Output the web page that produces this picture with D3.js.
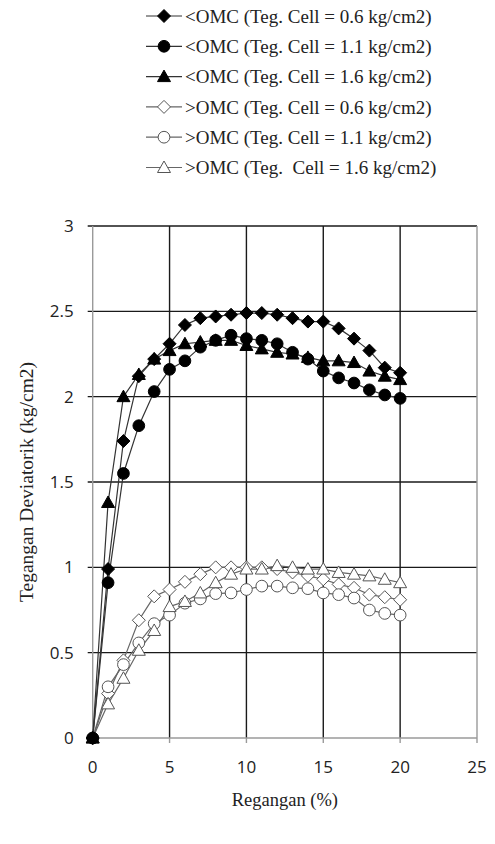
<!DOCTYPE html>
<html>
<head>
<meta charset="utf-8">
<style>
    body { margin: 0; background: #fff; }
    svg { display: block; }
    .tick-label { font-family: "Open Sans", "Liberation Sans", sans-serif; font-size: 17px; fill: #222; }
    .serif { font-family: "Liberation Serif", "DejaVu Serif", serif; fill: #222; }
</style>
</head>
<body>
<svg width="495" height="844"></svg>

<script src="https://cdnjs.cloudflare.com/ajax/libs/d3/7.8.5/d3.min.js"></script>
<script>
//----------------------------DATA----------------------------//
// strain (%) for every reading
let regangan = [0,1,2,3,4,5,6,7,8,9,10,11,12,13,14,15,16,17,18,19,20];

// deviator stress (kg/cm2)
let ltOmc06 = [0, 0.99, 1.74, 2.12, 2.22, 2.31, 2.42, 2.46, 2.47, 2.48, 2.49, 2.49, 2.48, 2.46, 2.44, 2.44, 2.40, 2.34, 2.27, 2.17, 2.14];
let ltOmc11 = [0, 0.91, 1.55, 1.83, 2.03, 2.16, 2.21, 2.29, 2.33, 2.36, 2.34, 2.33, 2.31, 2.26, 2.22, 2.15, 2.11, 2.08, 2.04, 2.01, 1.99];
let ltOmc16 = [0, 1.38, 2.00, 2.13, 2.22, 2.27, 2.31, 2.32, 2.33, 2.33, 2.30, 2.28, 2.26, 2.25, 2.23, 2.21, 2.21, 2.20, 2.15, 2.12, 2.10];
let gtOmc06 = [0, 0.26, 0.455, 0.69, 0.83, 0.87, 0.915, 0.96, 1.00, 1.00, 1.00, 1.00, 0.99, 0.97, 0.95, 0.93, 0.90, 0.88, 0.84, 0.825, 0.81];
let gtOmc11 = [0, 0.30, 0.43, 0.557, 0.67, 0.72, 0.79, 0.815, 0.846, 0.85, 0.87, 0.89, 0.89, 0.88, 0.875, 0.85, 0.84, 0.82, 0.75, 0.73, 0.72];
let gtOmc16 = [0, 0.20, 0.35, 0.514, 0.63, 0.77, 0.80, 0.85, 0.91, 0.96, 0.99, 0.99, 1.01, 1.00, 0.99, 0.99, 0.97, 0.96, 0.95, 0.93, 0.91];

let seriesNames = [
    "<OMC (Teg. Cell = 0.6 kg/cm2)",
    "<OMC (Teg. Cell = 1.1 kg/cm2)",
    "<OMC (Teg. Cell = 1.6 kg/cm2)",
    ">OMC (Teg. Cell = 0.6 kg/cm2)",
    ">OMC (Teg. Cell = 1.1 kg/cm2)",
    ">OMC (Teg.  Cell = 1.6 kg/cm2)"
];

let xTicks = [0, 5, 10, 15, 20, 25];
let yTicks = [0, 0.5, 1, 1.5, 2, 2.5, 3];

//----------------------------SETUP----------------------------//
let svg = d3.select("svg");

let x = d3.scaleLinear().domain([0, 25]).range([92.7, 477]);
let y = d3.scaleLinear().domain([0, 3]).range([738, 226]);

// marker shapes, excel style
let shapes = {
    diamond: "M0,-6.5L6.5,0L0,6.5L-6.5,0Z",
    circle: d3.symbol(d3.symbolCircle, 108)(),
    triangle: "M0,-6.5L6.5,5L-6.5,5Z"
};

let series = [
    {name: seriesNames[0], values: ltOmc06, shape: "diamond",  fill: "#000", stroke: "#000", line: "#333"},
    {name: seriesNames[1], values: ltOmc11, shape: "circle",   fill: "#000", stroke: "#000", line: "#333"},
    {name: seriesNames[2], values: ltOmc16, shape: "triangle", fill: "#000", stroke: "#000", line: "#333"},
    {name: seriesNames[3], values: gtOmc06, shape: "diamond",  fill: "#fff", stroke: "#555", line: "#666"},
    {name: seriesNames[4], values: gtOmc11, shape: "circle",   fill: "#fff", stroke: "#555", line: "#666"},
    {name: seriesNames[5], values: gtOmc16, shape: "triangle", fill: "#fff", stroke: "#555", line: "#666"}
];

//----------------------------GRID & AXES----------------------------//
let grid = svg.append("g");

// horizontal grid (black) with the little ticks on the left
grid.selectAll(".hgrid")
    .data(yTicks.filter(d => d > 0))
    .join("line")
    .attr("x1", x(0) - 5).attr("x2", x(25))
    .attr("y1", d => y(d)).attr("y2", d => y(d))
    .attr("stroke", "#1a1a1a").attr("stroke-width", 1.4);

// vertical grid
grid.selectAll(".vgrid")
    .data(xTicks.filter(d => d > 0 && d < 25))
    .join("line")
    .attr("x1", d => x(d)).attr("x2", d => x(d))
    .attr("y1", y(0)).attr("y2", y(3))
    .attr("stroke", "#1a1a1a").attr("stroke-width", 1.4);

// gray frame: left axis, bottom axis, right border
grid.append("line").attr("x1", x(0)).attr("x2", x(0)).attr("y1", y(0)).attr("y2", y(3))
    .attr("stroke", "#9a9a9a").attr("stroke-width", 1.4);
grid.append("line").attr("x1", x(25)).attr("x2", x(25)).attr("y1", y(0)).attr("y2", y(3))
    .attr("stroke", "#9a9a9a").attr("stroke-width", 1.4);
grid.append("line").attr("x1", x(0) - 5).attr("x2", x(25)).attr("y1", y(0)).attr("y2", y(0))
    .attr("stroke", "#9a9a9a").attr("stroke-width", 1.4);

// bottom tick marks
grid.selectAll(".xtickmark")
    .data(xTicks)
    .join("line")
    .attr("x1", d => x(d)).attr("x2", d => x(d))
    .attr("y1", y(0)).attr("y2", y(0) + 5)
    .attr("stroke", "#9a9a9a").attr("stroke-width", 1.4);

// tick labels
svg.append("g").selectAll("text")
    .data(yTicks)
    .join("text")
    .attr("class", "tick-label")
    .attr("x", x(0) - 19)
    .attr("y", d => y(d))
    .attr("dy", "0.36em")
    .attr("text-anchor", "end")
    .text(d => d);

svg.append("g").selectAll("text")
    .data(xTicks)
    .join("text")
    .attr("class", "tick-label")
    .attr("x", d => x(d))
    .attr("y", 773)
    .attr("text-anchor", "middle")
    .text(d => d);

// axis titles
svg.append("text")
    .attr("class", "serif")
    .attr("font-size", 19.5)
    .attr("text-anchor", "middle")
    .attr("transform", `translate(33,${(y(0) + y(3)) / 2}) rotate(-90)`)
    .text("Tegangan Deviatorik (kg/cm2)");

svg.append("text")
    .attr("class", "serif")
    .attr("font-size", 18.5)
    .attr("text-anchor", "middle")
    .attr("x", (x(0) + x(25)) / 2)
    .attr("y", 806)
    .text("Regangan (%)");

//----------------------------LINES & MARKERS----------------------------//
let line = d3.line()
    .x((d, i) => x(regangan[i]))
    .y(d => y(d));

let plot = svg.append("g");

// open series first, filled series on top
let drawOrder = [3, 4, 5, 0, 1, 2];
drawOrder.forEach(function(k) {
    let s = series[k];
    plot.append("path")
        .attr("d", line(s.values))
        .attr("fill", "none")
        .attr("stroke", s.line)
        .attr("stroke-width", 1.2);
});
drawOrder.forEach(function(k) {
    let s = series[k];
    plot.append("g").selectAll("path")
        .data(s.values)
        .join("path")
        .attr("d", shapes[s.shape])
        .attr("transform", (d, i) => `translate(${x(regangan[i])},${y(d)})`)
        .attr("fill", s.fill)
        .attr("stroke", s.stroke)
        .attr("stroke-width", 1);
});

//----------------------------LEGEND----------------------------//
let legend = svg.append("g");
let rows = legend.selectAll("g")
    .data(series)
    .join("g")
    .attr("transform", (d, i) => `translate(0,${16 + i * 30.3})`);

rows.append("line")
    .attr("x1", 146).attr("x2", 182)
    .attr("stroke", d => d.line).attr("stroke-width", 1.2);
rows.append("path")
    .attr("d", d => shapes[d.shape])
    .attr("transform", "translate(164,0)")
    .attr("fill", d => d.fill)
    .attr("stroke", d => d.stroke);
rows.append("text")
    .attr("class", "serif")
    .attr("font-size", 19)
    .attr("x", 185)
    .attr("dy", "0.35em")
    .attr("xml:space", "preserve")
    .style("white-space", "pre")
    .text(d => d.name);
</script>
</body>
</html>
